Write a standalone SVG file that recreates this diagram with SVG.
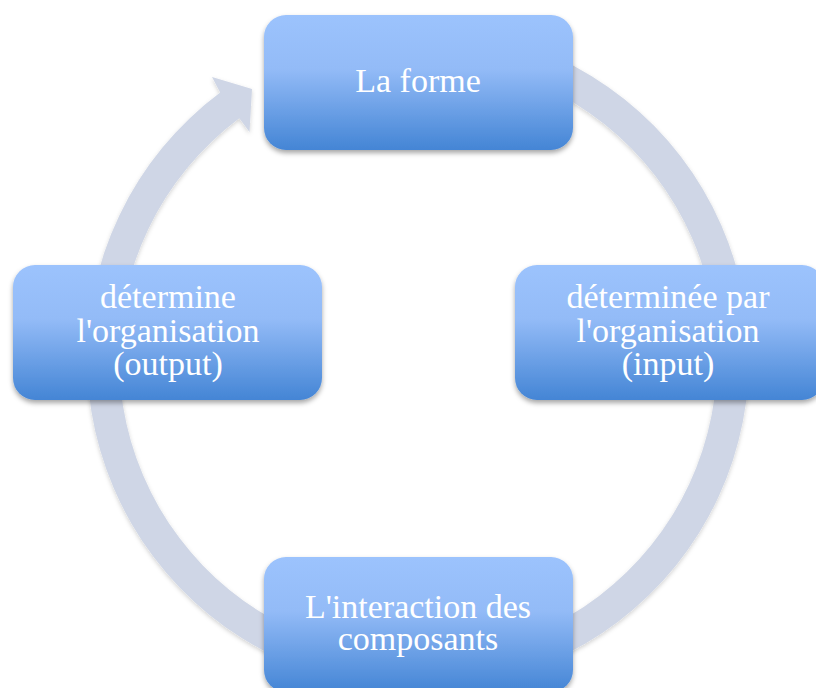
<svg xmlns="http://www.w3.org/2000/svg" width="816" height="688" viewBox="0 0 816 688">
<defs>
<linearGradient id="boxGrad" x1="0" y1="0" x2="0" y2="1">
<stop offset="0" stop-color="#9cc3fd"/>
<stop offset="0.4" stop-color="#93bbf7"/>
<stop offset="1" stop-color="#4485d5"/>
</linearGradient>
<filter id="shadow" x="-10%" y="-10%" width="120%" height="130%">
<feDropShadow dx="0" dy="3" stdDeviation="2.5" flood-color="#000" flood-opacity="0.35"/>
</filter>
<filter id="ringShadow" x="-10%" y="-10%" width="120%" height="120%">
<feDropShadow dx="0" dy="2" stdDeviation="2" flood-color="#000" flood-opacity="0.18"/>
</filter>
</defs>
<style>
.box{fill:url(#boxGrad);filter:url(#shadow);}
.lbl{fill:#ffffff;font-family:"Liberation Serif","DejaVu Serif",serif;font-size:34px;text-anchor:middle;}
.ring{fill:#cfd6e6;filter:url(#ringShadow);}
</style>
<rect width="816" height="688" fill="#ffffff"/>
<g id="connectors">
<path class="ring" d="M360.5 32 A331 331 0 1 1 220.2 92.6 L212 77 L252 89 L249.5 132 L239.3 118.3 A299 299 0 1 0 366.1 63.5 Z"/>
</g>
<g id="node-forme">
<rect class="box" x="264" y="15" width="309" height="135" rx="22"/>
<text class="lbl" x="418" y="92">La forme</text>
</g>
<g id="node-input">
<rect class="box" x="515" y="265" width="309" height="135" rx="22"/>
<text class="lbl" x="668" y="308">déterminée par</text>
<text class="lbl" x="668" y="342">l'organisation</text>
<text class="lbl" x="668" y="375">(input)</text>
</g>
<g id="node-interaction">
<rect class="box" x="264" y="557" width="309" height="135" rx="22"/>
<text class="lbl" x="418" y="618">L'interaction des</text>
<text class="lbl" x="418" y="650">composants</text>
</g>
<g id="node-output">
<rect class="box" x="13" y="265" width="309" height="135" rx="22"/>
<text class="lbl" x="168" y="308">détermine</text>
<text class="lbl" x="168" y="342">l'organisation</text>
<text class="lbl" x="168" y="375">(output)</text>
</g>
</svg>
